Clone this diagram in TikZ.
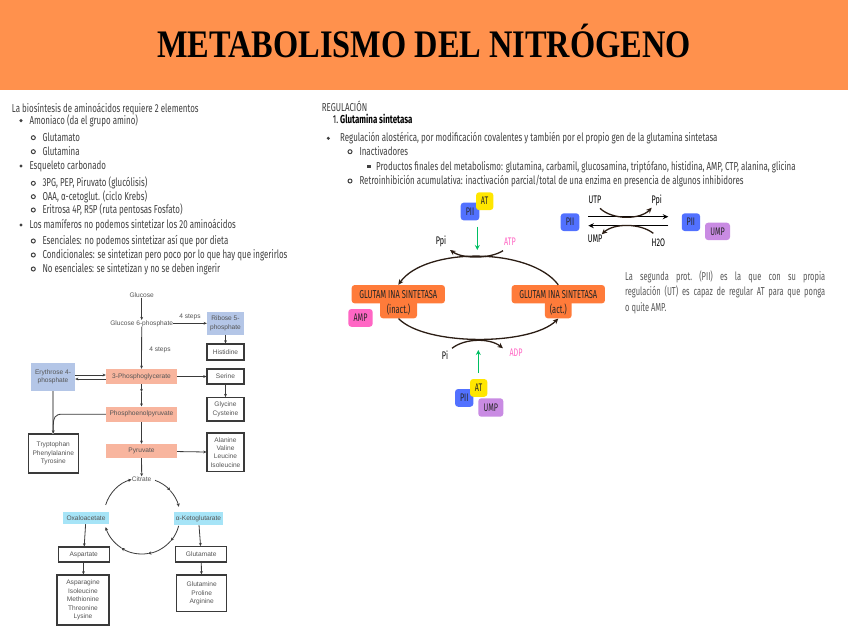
\documentclass[tikz,border=0pt]{standalone}
\usepackage{fontspec}
\usetikzlibrary{arrows.meta,calc}
\newfontfamily\hand[FakeStretch=0.69]{Fira Sans}
\newfontfamily\handp[FakeStretch=0.65]{Fira Sans}
\newfontfamily\ttlfont[FakeStretch=0.83]{Liberation Serif}
\newfontfamily\pfont{Liberation Sans}
\definecolor{hdr}{HTML}{FF914D}
\definecolor{txt}{HTML}{404040}
\definecolor{partxt}{HTML}{595959}
\definecolor{gsor}{HTML}{FF7B3A}
\definecolor{pblue}{HTML}{5271FF}
\definecolor{atyel}{HTML}{FFE600}
\definecolor{amppink}{HTML}{FF66C4}
\definecolor{umppur}{HTML}{C98BE3}
\definecolor{grn}{HTML}{00BF63}
\definecolor{brn}{HTML}{2B1D14}
\definecolor{salmon}{HTML}{F8B59E}
\definecolor{lblue}{HTML}{B4C6E7}
\definecolor{cyanb}{HTML}{A6E4F7}
\definecolor{pgray}{HTML}{555555}
\definecolor{bgray}{HTML}{3A3A3A}
\tikzset{
  ltxt/.style={anchor=base west, inner sep=0pt, text=txt, font=\hand\fontsize{11.5}{13}\selectfont},
  ptxt/.style={inner sep=0pt, align=center, text=pgray, font=\pfont\fontsize{6.6}{8.4}\selectfont},
  wbox/.style={ptxt, draw=bgray, line width=1.1pt, fill=white},
  parr/.style={draw=bgray, line width=0.8pt, -{Stealth[length=3.2pt,width=2.8pt]}},
  tag/.style={rounded corners=3pt, inner sep=0pt, text=black!85, font=\handp\fontsize{11}{12}\selectfont},
  lab/.style={inner sep=0pt, font=\handp\fontsize{11}{12}\selectfont},
  garr/.style={draw=grn, line width=1.4pt, -{Stealth[length=5pt,width=5pt]}},
  barr/.style={draw=brn, line width=1.3pt, -{Stealth[length=5.5pt,width=5pt]}},
  karr/.style={draw=black, line width=1.4pt, -{Stealth[length=5.5pt,width=5pt]}},
  cyc/.style={draw=bgray, line width=0.8pt, -{Stealth[length=3.4pt,width=3.2pt]}},
  gstxt/.style={inner sep=0pt, fill=gsor, rounded corners=3pt, text=black!85, font=\handp\fontsize{11.5}{12}\selectfont},
  ring/.style={draw=txt, line width=1pt},
  partx/.style={ltxt, text=partxt, font=\handp\fontsize{11.5}{13}\selectfont\frenchspacing},
}
\begin{document}
\begin{tikzpicture}[x=1pt,y=-1pt]
\useasboundingbox (0,0) rectangle (848,636);
\fill[white] (0,0) rectangle (848,636);
\fill[hdr] (0,0) rectangle (848,90);
\node[anchor=base, inner sep=0pt, font=\ttlfont\bfseries\fontsize{39}{40}\selectfont] (title) at (424,58) {METABOLISMO DEL NITRÓGENO};

% ---------------- left list
\node[ltxt] (l1) at (11.7,112.5) {La biosíntesis de aminoácidos requiere 2 elementos};
\fill[txt] (21,120.7) circle (1.7);
\node[ltxt] (l2) at (29.3,124.2) {Amoniaco (da el grupo amino)};
\draw[ring] (33.3,137.7) circle (2);
\node[ltxt] (l3) at (42.3,141.2) {Glutamato};
\draw[ring] (33.3,151.7) circle (2);
\node[ltxt] (l4) at (42.3,155.2) {Glutamina};
\fill[txt] (21,166) circle (1.7);
\node[ltxt] (l5) at (29.3,169.5) {Esqueleto carbonado};
\draw[ring] (33.3,183.3) circle (2);
\node[ltxt] (l6) at (42.3,186.8) {3PG, PEP, Piruvato (glucólisis)};
\draw[ring] (33.3,196.7) circle (2);
\node[ltxt] (l7) at (42.3,200.2) {OAA, α-cetoglut. (ciclo Krebs)};
\draw[ring] (33.3,210) circle (2);
\node[ltxt] (l8) at (42.3,213.5) {Eritrosa 4P, R5P (ruta pentosas Fosfato)};
\fill[txt] (21,225) circle (1.7);
\node[ltxt] (l9) at (29.3,228.5) {Los mamíferos no podemos sintetizar los 20 aminoácidos};
\draw[ring] (33.3,241) circle (2);
\node[ltxt] (l10) at (42.3,244.5) {Esenciales: no podemos sintetizar así que por dieta};
\draw[ring] (33.3,255) circle (2);
\node[ltxt] (l11) at (42.3,258.5) {Condicionales: se sintetizan pero poco por lo que hay que ingerirlos};
\draw[ring] (33.3,269) circle (2);
\node[ltxt] (l12) at (42.3,272.5) {No esenciales: se sintetizan y no se deben ingerir};

% ---------------- right list
\node[ltxt] (r1) at (321.7,111.8) {REGULACIÓN};
\node[ltxt, text=black] (r2) at (332.7,123.5) {1.\,\textbf{Glutamina sintetasa}};
\fill[txt] (328.3,138.3) circle (1.7);
\node[ltxt] (r3) at (340,141.8) {Regulación alostérica, por modificación covalentes y también por el propio gen de la glutamina sintetasa};
\draw[ring] (350,151.7) circle (2);
\node[ltxt] (r4) at (359.3,155.2) {Inactivadores};
\fill[txt] (367.3,165) rectangle (370.7,168.4);
\node[ltxt] (r5) at (376,170.2) {Productos finales del metabolismo: glutamina, carbamil, glucosamina, triptófano, histidina, AMP, CTP, alanina, glicina};
\draw[ring] (350,181) circle (2);
\node[ltxt] (r6) at (359.3,184.5) {Retroinhibición acumulativa: inactivación parcial/total de una enzima en presencia de algunos inhibidores};

% ---------------- pathway
\node[ptxt] (glc) at (141.7,295) {Glucose};
\node[ptxt] (g6p) at (141.7,323.3) {Glucose 6-phosphate};
\node[ptxt, fill=lblue, minimum width=37pt, minimum height=23.3pt] (r5p) at (225.5,323.3) {Ribose 5-\\phosphate};
\node[wbox, minimum width=37pt, minimum height=16pt] (his) at (225.5,352) {Histidine};
\node[ptxt, fill=salmon, minimum width=71pt, minimum height=15pt] (pg3) at (141.5,376.5) {3-Phosphoglycerate};
\node[ptxt, fill=lblue, minimum width=44pt, minimum height=28pt] (e4p) at (53,377) {Erythrose 4-\\phosphate};
\node[wbox, minimum width=37pt, minimum height=15pt] (ser) at (225.5,376.5) {Serine};
\node[wbox, minimum width=37pt, minimum height=23.3pt] (gly) at (225.5,409.3) {Glycine\\Cysteine};
\node[ptxt, fill=salmon, minimum width=71pt, minimum height=15pt] (pep) at (141.5,414.2) {Phosphoenolpyruvate};
\node[wbox, minimum width=50pt, minimum height=39pt] (trp) at (53.3,453.5) {Tryptophan\\Phenylalanine\\Tyrosine};
\node[ptxt, fill=salmon, minimum width=71pt, minimum height=14pt] (pyr) at (141.5,451) {Pyruvate};
\node[wbox, minimum width=37pt, minimum height=38.7pt] (ala) at (225.5,452.3) {Alanine\\Valine\\Leucine\\Isoleucine};
\node[ptxt] (cit) at (141.7,479) {Citrate};
\node[ptxt, fill=cyanb, minimum width=46pt, minimum height=12.3pt] (oaa) at (86,517.9) {Oxaloacetate};
\node[ptxt, fill=cyanb, minimum width=49pt, minimum height=13.3pt] (akg) at (198.5,518.3) {α-Ketoglutarate};
\node[wbox, minimum width=50.7pt, minimum height=15pt] (asp) at (83.7,554.5) {Aspartate};
\node[wbox, minimum width=52pt, minimum height=50pt] (asn) at (83,600) {Asparagine\\Isoleucine\\Methionine\\Threonine\\Lysine};
\node[wbox, minimum width=51pt, minimum height=15.3pt] (glu) at (201.2,554.3) {Glutamate};
\node[wbox, minimum width=50pt, minimum height=36.7pt] (gln) at (201.7,593.3) {Glutamine\\Proline\\Arginine};
\node[ptxt] (st1) at (190,317.3) {4 steps};
\node[ptxt] (st2) at (160,350) {4 steps};

\draw[parr] (glc) -- (g6p);
\draw[parr] (g6p.east) -- (r5p.west);
\draw[parr] (r5p) -- (his);
\draw[parr] (g6p) -- (pg3);
\draw[parr] ([yshift=2pt]e4p.east) -- ([yshift=2pt]e4p.east -| pg3.west);
\draw[parr] ([yshift=-2pt]e4p.east -| pg3.west) -- ([yshift=-2pt]e4p.east);
\draw[parr] (pg3) -- (ser);
\draw[parr] (ser) -- (gly);
\coordinate (pgm) at (141.5,392);
\draw[parr] (pg3) -- (pgm);
\draw[parr] (pgm) -- (pep);
\draw[draw=gray!70, line width=1.4pt] (e4p.south) -- (53,434);
\draw[parr] (pep.west) -- (62,414.2) .. controls (55,414.2) and (53.3,418) .. (53.3,425) -- (trp.north);
\draw[parr] (pep) -- (pyr);
\draw[parr] (pyr) -- (ala);
\draw[parr] (pyr) -- (cit);
\draw[parr] (oaa) -- (asp);
\draw[parr] (asp) -- (asn);
\draw[parr] (akg) -- (glu);
\draw[parr] (glu) -- (gln);
% krebs cycle
\draw[cyc] ([shift={(142,516)}]-70:38) arc[start angle=-70, end angle=-42, radius=38];
\draw[cyc] ([shift={(142,516)}]-42:38) arc[start angle=-42, end angle=-14, radius=38];
\draw[cyc] ([shift={(142,516)}]15:38) arc[start angle=15, end angle=41, radius=38];
\draw[cyc] ([shift={(142,516)}]41:38) arc[start angle=41, end angle=81, radius=38];
\draw[cyc] ([shift={(142,516)}]81:38) arc[start angle=81, end angle=123, radius=38];
\draw[cyc] ([shift={(142,516)}]123:38) arc[start angle=123, end angle=163, radius=38];
\draw[cyc] ([shift={(142,516)}]197:38) arc[start angle=197, end angle=254, radius=38];

% ---------------- regulation cycle
\node[gstxt, minimum width=37pt, minimum height=18.3pt] (gsit) at (398.5,309.2) {(inact.)};
\node[gstxt, minimum width=93.3pt, minimum height=18.3pt] (gsi) at (398.3,294.2) {GLUTAM INA SINTETASA};
\node[gstxt, minimum width=26.7pt, minimum height=18.3pt] (gsat) at (558.3,309.2) {(act.)};
\node[gstxt, minimum width=93.3pt, minimum height=18.3pt] (gsa) at (558.3,294.2) {GLUTAM INA SINTETASA};
\node[tag, fill=amppink, minimum width=24.4pt, minimum height=17.7pt] (amp) at (360.5,317.9) {AMP};

\node[tag, fill=pblue, minimum width=18.6pt, minimum height=17.7pt] (pii1) at (470,211.5) {PII};
\node[tag, fill=atyel, minimum width=17.3pt, minimum height=17.7pt] (at1) at (484.7,201.2) {AT};
\node[tag, fill=pblue, minimum width=18.3pt, minimum height=17.7pt] (pii2) at (464.2,397.9) {PII};
\node[tag, fill=atyel, minimum width=17.3pt, minimum height=17.7pt] (at2) at (478.7,387.9) {AT};
\node[tag, fill=umppur, minimum width=25pt, minimum height=18.4pt] (ump2) at (490.8,407.5) {UMP};

\node[lab] (ppi1) at (441,241) {Ppi};
\node[lab, text=amppink] (atp) at (510,241.7) {ATP};
\node[lab] (pi) at (445,355) {Pi};
\node[lab, text=amppink] (adp) at (516,352.7) {ADP};

\draw[barr] (gsa.north) .. controls (530,247) and (425,247) .. (gsi.north);
\draw[barr] (gsit.south) .. controls (425,346) and (530,346) .. (gsat.south);
\coordinate (atps) at (503,250.7);
\coordinate (ppie) at (450,250);
\draw[barr] (atps) .. controls (490,259) and (463,259) .. (ppie);
\coordinate (pis) at (452,348.3);
\coordinate (adpe) at (503,348.3);
\draw[barr] (pis) .. controls (465,338) and (490,338) .. (adpe);
\coordinate (g1s) at (477.3,226.7);
\coordinate (g1e) at (477.3,250);
\draw[garr] (g1s) -- (g1e);
\coordinate (g2s) at (478.3,373);
\coordinate (g2e) at (478.3,350);
\draw[garr] (g2s) -- (g2e);

% ---------------- PII uridylylation
\node[tag, fill=pblue, minimum width=18.6pt, minimum height=17.7pt] (piil) at (570,222.2) {PII};
\node[tag, fill=pblue, minimum width=18.3pt, minimum height=17.7pt] (piir) at (690.9,222.2) {PII};
\node[tag, fill=umppur, minimum width=25pt, minimum height=17.3pt] (umpr) at (717.5,231.4) {UMP};
\node[lab] (utp) at (595,200) {UTP};
\node[lab] (ppi2) at (656.7,200) {Ppi};
\node[lab] (umpl) at (595,238.3) {UMP};
\node[lab] (h2o) at (658.3,242.3) {H2O};
\coordinate (ra1) at (588.3,216.7);
\coordinate (ra2) at (668.3,216.7);
\coordinate (rb1) at (668.3,225.7);
\coordinate (rb2) at (588.3,225.7);
\draw[karr] (ra1) -- (ra2);
\draw[karr] (rb1) -- (rb2);
\coordinate (utps) at (600,208.3);
\coordinate (ppie2) at (651.7,207.7);
\draw[barr] (utps) .. controls (612,220) and (640,220) .. (ppie2);
\coordinate (h2os) at (653.3,233.3);
\coordinate (umpe) at (601.7,234.3);
\draw[barr] (h2os) .. controls (640,223) and (614,223) .. (umpe);

% ---------------- paragraph
\node[partx] (p1) at (625,280.2) {\makebox[200pt][s]{La segunda prot. (PII) es la que con su propia}};
\node[partx] (p2) at (625,295.8) {\makebox[200pt][s]{regulación (UT) es capaz de regular AT para que ponga}};
\node[partx] (p3) at (625,311.2) {o quite AMP.};
\end{tikzpicture}
\end{document}
